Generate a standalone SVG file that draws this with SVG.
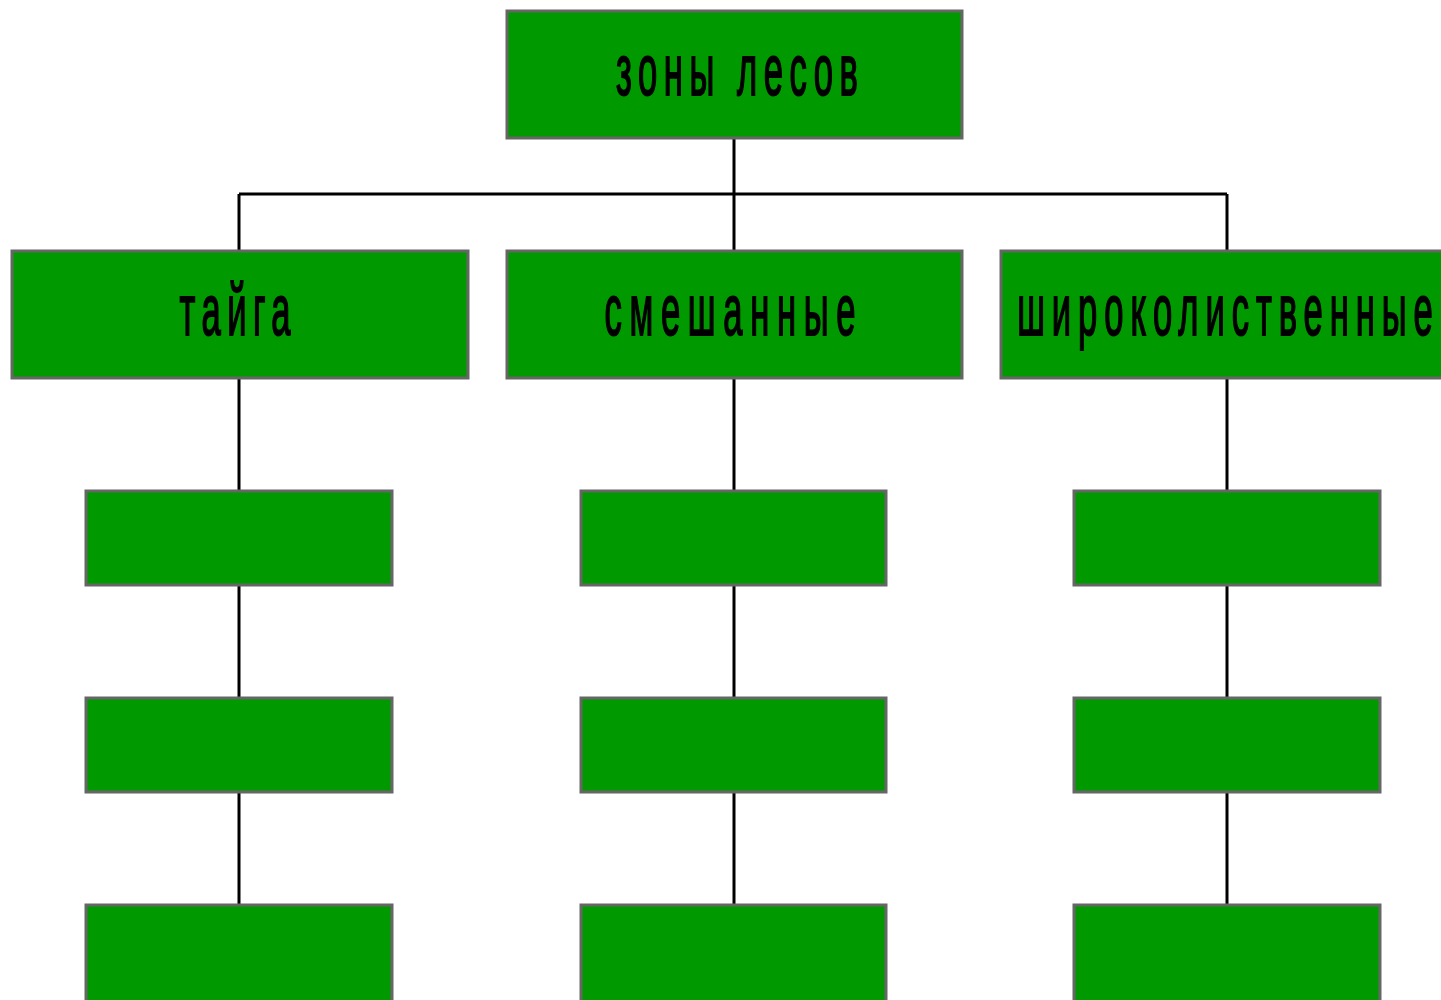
<svg xmlns="http://www.w3.org/2000/svg" width="1441" height="1000" viewBox="0 0 1441 1000">
<style>
.box{fill:#009900;stroke:#666666;stroke-width:3}
.ln{stroke:#000;stroke-width:3;fill:none}
.t{font-family:"Liberation Sans",Arial,sans-serif;font-size:72px;fill:#000;stroke:#000;stroke-width:2;text-anchor:middle}
</style>
<rect width="1441" height="1000" fill="#fff"/>
<g id="connectors">
<path class="ln" d="M734,138V251M239,194H1227M239,194V251M734,194V251M1227,194V251"/>
<path class="ln" d="M239,378V905M734,378V905M1227,378V905"/>
</g>
<g id="n-root"><rect class="box" x="507" y="11" width="455" height="127"/>
<text class="t" transform="translate(737,95) scale(0.48,1)" textLength="504" lengthAdjust="spacing">зоны лесов</text></g>
<g id="n-taiga"><rect class="box" x="12" y="251" width="456" height="127"/>
<text class="t" transform="translate(235,335) scale(0.48,1)" textLength="231" lengthAdjust="spacing">тайга</text></g>
<g id="n-mixed"><rect class="box" x="507" y="251" width="455" height="127"/>
<text class="t" transform="translate(730,335) scale(0.48,1)" textLength="523" lengthAdjust="spacing">смешанные</text></g>
<g id="n-broad"><rect class="box" x="1001" y="251" width="460" height="127"/>
<text class="t" transform="translate(1225,335) scale(0.48,1)" textLength="866" lengthAdjust="spacing">широколиственные</text></g>
<g id="n-a1"><rect class="box" x="86" y="491" width="306" height="94"/></g>
<g id="n-a2"><rect class="box" x="86" y="698" width="306" height="94"/></g>
<g id="n-a3"><rect class="box" x="86" y="905" width="306" height="110"/></g>
<g id="n-b1"><rect class="box" x="581" y="491" width="305" height="94"/></g>
<g id="n-b2"><rect class="box" x="581" y="698" width="305" height="94"/></g>
<g id="n-b3"><rect class="box" x="581" y="905" width="305" height="110"/></g>
<g id="n-c1"><rect class="box" x="1074" y="491" width="306" height="94"/></g>
<g id="n-c2"><rect class="box" x="1074" y="698" width="306" height="94"/></g>
<g id="n-c3"><rect class="box" x="1074" y="905" width="306" height="110"/></g>
</svg>
